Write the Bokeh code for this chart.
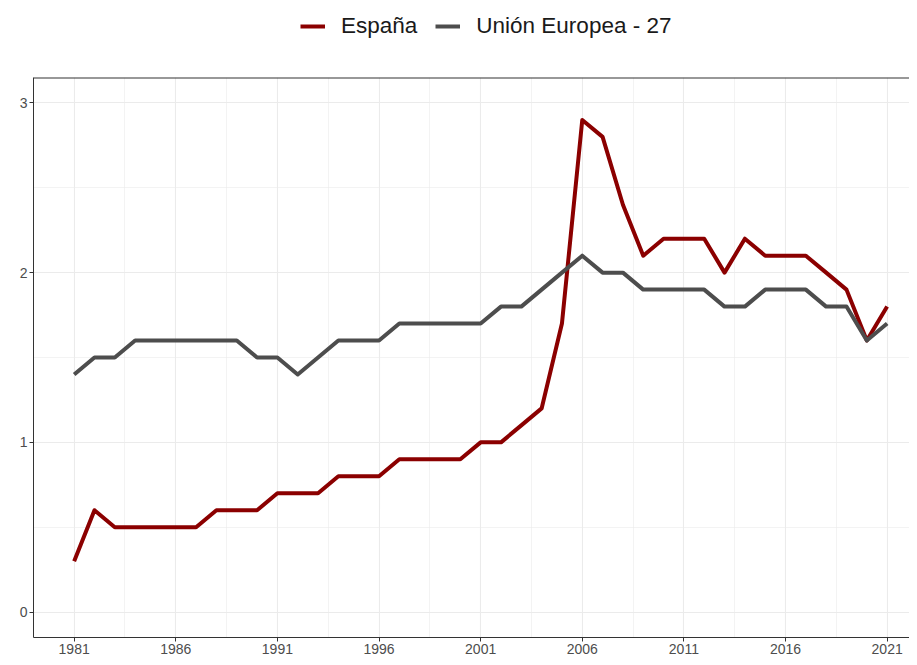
from bokeh.plotting import figure
from bokeh.layouts import column
from bokeh.models import FixedTicker, Range1d, Legend, LegendItem, ColumnDataSource, Span
from bokeh.embed import file_html
from bokeh.resources import INLINE

years = list(range(1981, 2022))
espana = [0.3, 0.6, 0.5, 0.5, 0.5, 0.5, 0.5, 0.6, 0.6, 0.6,
          0.7, 0.7, 0.7, 0.8, 0.8, 0.8, 0.9, 0.9, 0.9, 0.9,
          1.0, 1.0, 1.1, 1.2, 1.7, 2.9, 2.8, 2.4, 2.1, 2.2,
          2.2, 2.2, 2.0, 2.2, 2.1, 2.1, 2.1, 2.0, 1.9, 1.6, 1.8]
ue27 = [1.4, 1.5, 1.5, 1.6, 1.6, 1.6, 1.6, 1.6, 1.6, 1.5,
        1.5, 1.4, 1.5, 1.6, 1.6, 1.6, 1.7, 1.7, 1.7, 1.7,
        1.7, 1.8, 1.8, 1.9, 2.0, 2.1, 2.0, 2.0, 1.9, 1.9,
        1.9, 1.9, 1.8, 1.8, 1.9, 1.9, 1.9, 1.8, 1.8, 1.6, 1.7]
x_ticks = [1981, 1986, 1991, 1996, 2001, 2006, 2011, 2016, 2021]
x_minor = [1978.5, 1983.5, 1988.5, 1993.5, 1998.5, 2003.5, 2008.5, 2013.5, 2018.5, 2023.5]
y_ticks = [0, 1, 2, 3]
y_minor = [0.5, 1.5, 2.5]
series_names = ["España", "Unión Europea - 27"]
series_colors = ["#8B0000", "#4D4D4D"]
y_lo, y_hi = -0.15, 3.15

# ---- legend strip (top) ----
top = figure(width=909, height=76, output_backend="svg", toolbar_location=None,
             x_range=Range1d(0, 1), y_range=Range1d(0, 1),
             min_border_left=0, min_border_right=0, min_border_top=0, min_border_bottom=0)
top.axis.visible = False
top.grid.visible = False
top.outline_line_color = None
# off-screen dummy renderers, only used to give the legend its glyphs
dummy = ColumnDataSource(dict(x=[-10, -9], y=[-10, -9]))
lr_es = top.line("x", "y", source=dummy, line_color=series_colors[0], line_width=4)
lr_ue = top.line("x", "y", source=dummy, line_color=series_colors[1], line_width=4)
legend = Legend(items=[LegendItem(label=series_names[0], renderers=[lr_es]),
                       LegendItem(label=series_names[1], renderers=[lr_ue])],
                orientation="horizontal", location=(267, 37),
                label_text_font="Liberation Sans", label_text_font_size="22.5px",
                label_text_color="#1A1A1A", glyph_width=25, glyph_height=20,
                label_standoff=16, spacing=18, padding=0, margin=0,
                border_line_color=None, background_fill_alpha=0)
top.add_layout(legend, "center")

# ---- main plot ----
p = figure(width=909, height=581, output_backend="svg", toolbar_location=None,
           x_range=Range1d(1979, 2022.1), y_range=Range1d(y_lo, y_hi),
           min_border_left=33, min_border_right=0, min_border_top=1, min_border_bottom=20)

src = ColumnDataSource(dict(year=years, espana=espana, ue27=ue27))
p.line("year", "espana", source=src, line_color=series_colors[0], line_width=4, line_join="round")
p.line("year", "ue27", source=src, line_color=series_colors[1], line_width=4, line_join="round")

p.xaxis.ticker = FixedTicker(ticks=x_ticks, minor_ticks=x_minor)
p.yaxis.ticker = FixedTicker(ticks=y_ticks, minor_ticks=y_minor)

for g in (p.xgrid[0], p.ygrid[0]):
    g.grid_line_color = "#EBEBEB"
    g.grid_line_width = 1.1
    g.minor_grid_line_color = "#EBEBEB"
    g.minor_grid_line_width = 0.6

for ax in (p.xaxis[0], p.yaxis[0]):
    ax.axis_line_color = "#333333"
    ax.axis_line_width = 1
    ax.major_tick_line_color = "#333333"
    ax.major_tick_in = 0
    ax.major_tick_out = 4
    ax.minor_tick_line_color = None
    ax.major_label_text_font = "Liberation Sans"
    ax.major_label_text_font_size = "14px"
    ax.major_label_text_color = "#4D4D4D"
    ax.major_label_standoff = 2

# panel border: left/bottom come from the axis lines, top from a span;
# the right edge lies beyond the picture in the reference
p.outline_line_color = None
p.add_layout(Span(location=y_hi, dimension="width", line_color="#333333", line_width=2))
p.background_fill_color = "white"
p.border_fill_color = "white"

layout = column(top, p, spacing=0)
open("out.html", "w").write(file_html(layout, INLINE))
